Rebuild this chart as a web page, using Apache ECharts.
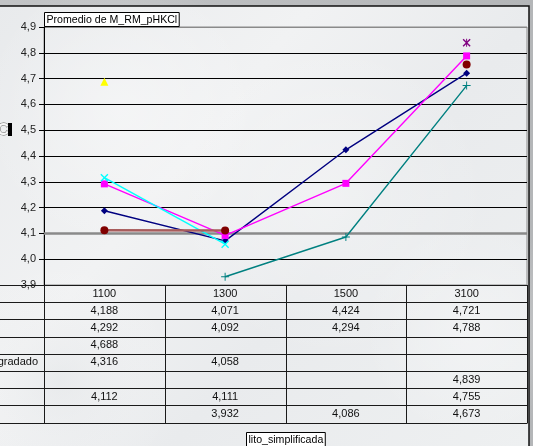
<!DOCTYPE html>
<html>
<head>
<meta charset="utf-8">
<script src="https://cdn.jsdelivr.net/npm/echarts@6/dist/echarts.min.js"></script>
<style>
html,body{margin:0;padding:0;background:#c6c8ca;}
#c{width:533px;height:446px;}
</style>
</head>
<body>
<div id="c"></div>
<script>
// Categories (lito_simplificada) and mean pHKCl per lithology row
const categories = ['1100', '1300', '1500', '3100'];
const rowLabels = ['Aluvial', 'Arenisca', 'Basalto', 'Granito degradado', 'Caliza', 'Lutita', 'Esquistos.'];
const serieA = [4.188, 4.071, 4.424, 4.721];
const serieB = [4.292, 4.092, 4.294, 4.788];
const serieC = [4.688, null, null, null];
const serieD = [4.316, 4.058, null, null];
const serieE = [null, null, null, 4.839];
const serieF = [4.112, 4.111, null, 4.755];
const serieG = [null, 3.932, 4.086, 4.673];
const rows = [serieA, serieB, serieC, serieD, serieE, serieF, serieG];
const yMin = 3.9, yMax = 4.9, yStep = 0.1;

const colors = ['#000080', '#ff00ff', '#ffff00', '#00ffff', '#800080', '#800000', '#008080'];
const xMark = 'path://M0,1.2L1.2,0L5,3.8L8.8,0L10,1.2L6.2,5L10,8.8L8.8,10L5,6.2L1.2,10L0,8.8L3.8,5Z';
const starMark = 'path://M0,1.2L1.2,0L4.4,3.2L4.4,0L5.6,0L5.6,3.2L8.8,0L10,1.2L6.2,5L10,8.8L8.8,10L5.6,6.8L5.6,10L4.4,10L4.4,6.8L1.2,10L0,8.8L3.8,5Z';
const plusMark = 'path://M4.4,0H5.6V4.4H10V5.6H5.6V10H4.4V5.6H0V4.4H4.4Z';
const markers = [
  {symbol: 'diamond', size: 7},
  {symbol: 'rect', size: 7},
  {symbol: 'triangle', size: 8},
  {symbol: xMark, size: 8},
  {symbol: starMark, size: 8},
  {symbol: 'circle', size: 8},
  {symbol: plusMark, size: 8}
];

const fmt = v => v.toFixed(3).replace('.', ',');
const FONT = 'Liberation Sans, Arial, sans-serif';

const chart = echarts.init(document.getElementById('c'), null, {renderer: 'canvas'});

const gridColors = [];
for (let i = 0; i <= Math.round((yMax - yMin) / yStep); i++) gridColors.push('#000000');
gridColors[2] = '#8a8a8a';
gridColors[gridColors.length - 1] = '#8a8a8a';

const series = rows.map((data, i) => ({
  name: rowLabels[i],
  type: 'line',
  data: data,
  connectNulls: false,
  symbol: markers[i].symbol,
  symbolSize: markers[i].size,
  showAllSymbol: true,
  z: 3 + i,
  lineStyle: {color: i === 5 ? '#a85c5c' : colors[i], width: i === 5 ? 2.5 : 1.4},
  itemStyle: {color: colors[i], borderWidth: 0},
  emphasis: {disabled: true},
  animation: false
}));
// heavier grey rule at 4,1
series[0].markLine = {
  silent: true, symbol: 'none', label: {show: false},
  lineStyle: {color: '#8a8a8a', width: 2.5, type: 'solid'},
  data: [{yAxis: 4.1}], animation: false, z: 1
};

chart.setOption({
  animation: false,
  backgroundColor: 'transparent',
  grid: {left: 44, right: 6, top: 27, height: 258, show: true, borderColor: '#8a8a8a', borderWidth: 1, backgroundColor: 'transparent'},
  xAxis: {
    type: 'category', data: categories, boundaryGap: true,
    axisLine: {lineStyle: {color: '#000', width: 1}},
    axisTick: {show: false}, axisLabel: {show: false}, splitLine: {show: false}
  },
  yAxis: {
    type: 'value', min: yMin, max: yMax, interval: yStep,
    axisLine: {show: true, lineStyle: {color: '#000', width: 1}},
    axisTick: {show: true, length: 5, lineStyle: {color: '#000'}},
    axisLabel: {margin: 8, color: '#222', fontFamily: FONT, fontSize: 11,
      formatter: v => v.toFixed(1).replace('.', ',')},
    splitLine: {show: true, lineStyle: {color: gridColors, width: 1}}
  },
  series: series
});

// Data table under the plot
const xs = categories.map(c => chart.convertToPixel({xAxisIndex: 0}, c));
const step = xs[1] - xs[0];
const bounds = [xs[0] - step / 2].concat(xs.map(x => x + step / 2));
const yTop = chart.convertToPixel({yAxisIndex: 0}, yMin);
const rowH = 17.2;
const nRows = rows.length + 1;
const right = bounds[bounds.length - 1];

const g = [];
// page background
g.push({type: 'rect', z: -10, silent: true, shape: {x: 0, y: 0, width: 533, height: 446},
  style: {fill: new echarts.graphic.LinearGradient(0, 0, 1, 0, [
    {offset: 0, color: '#c2c4c6'}, {offset: 1, color: '#b4b6b8'}])}});
g.push({type: 'rect', z: -9, silent: true, shape: {x: -5, y: 6, width: 534, height: 445},
  style: {fill: new echarts.graphic.LinearGradient(0, 0, 1, 1, [
    {offset: 0, color: '#e8eaec'}, {offset: 0.35, color: '#f1f2f3'},
    {offset: 0.6, color: '#e9ebed'}, {offset: 1, color: '#eef0f1'}])}});
[[120, 110, 140, 'rgba(255,255,255,0.35)'], [330, 200, 160, 'rgba(255,255,255,0.3)'],
 [60, 380, 120, 'rgba(220,223,226,0.35)'], [470, 330, 110, 'rgba(255,255,255,0.3)']].forEach(c => {
  g.push({type: 'circle', z: -8, silent: true, shape: {cx: c[0], cy: c[1], r: c[2]},
    style: {fill: new echarts.graphic.RadialGradient(0.5, 0.5, 0.5, [
      {offset: 0, color: c[3]}, {offset: 1, color: 'rgba(255,255,255,0)'}])}});
});
// outer frame
g.push({type: 'rect', z: 1, silent: true, shape: {x: -10, y: 6, width: 539, height: 460},
  style: {fill: 'none', stroke: '#111', lineWidth: 1.5}});

// table rules
for (let r = 0; r <= nRows; r++) {
  const y = Math.round(yTop + r * rowH) + 0.5;
  g.push({type: 'line', z: 5, silent: true, shape: {x1: -5, y1: y, x2: right, y2: y},
    style: {stroke: '#1a1a1a', lineWidth: 1}});
}
bounds.forEach(x => {
  const xx = Math.round(x) + 0.5;
  g.push({type: 'line', z: 5, silent: true, shape: {x1: xx, y1: yTop, x2: xx, y2: Math.round(yTop + nRows * rowH) + 0.5},
    style: {stroke: '#1a1a1a', lineWidth: 1}});
});
// header row
categories.forEach((c, j) => {
  g.push({type: 'text', z: 6, silent: true, style: {text: c, x: xs[j], y: yTop + rowH / 2,
    align: 'center', verticalAlign: 'middle', fill: '#111', font: '11px ' + FONT}});
});
// value rows
const cv = document.createElement('canvas').getContext('2d');
cv.font = '11px ' + FONT;
const labelStart = 38 - cv.measureText(rowLabels[3]).width;
rows.forEach((data, i) => {
  const yc = yTop + rowH * (i + 1.5);
  g.push({type: 'text', z: 6, silent: true, style: {text: rowLabels[i], x: labelStart, y: yc,
    align: 'left', verticalAlign: 'middle', fill: '#111', font: '11px ' + FONT}});
  data.forEach((v, j) => {
    if (v == null) return;
    g.push({type: 'text', z: 6, silent: true, style: {text: fmt(v), x: xs[j], y: yc,
      align: 'center', verticalAlign: 'middle', fill: '#111', font: '11px ' + FONT}});
  });
});

// pivot field buttons
function fieldButton(text, x, y) {
  cv.font = '10.6px ' + FONT;
  const w = cv.measureText(text).width + 4;
  g.push({type: 'rect', z: 7, silent: true, shape: {x: x + 0.5, y: y + 0.5, width: w, height: 14},
    style: {fill: '#ffffff', stroke: '#000', lineWidth: 1}});
  g.push({type: 'text', z: 8, silent: true, style: {text: text, x: x + 2.5, y: y + 8,
    verticalAlign: 'middle', fill: '#000', font: '10.6px ' + FONT}});
}
fieldButton('Promedio de M_RM_pHKCl', 44, 12);
fieldButton('lito_simplificada', 246, 432);

// axis title fragment at the left edge
g.push({type: 'text', z: 6, silent: true, style: {text: 'C', x: -3, y: 130, verticalAlign: 'middle',
  fill: '#f6f6f6', stroke: '#666', lineWidth: 1, font: 'bold 17px ' + FONT}});
g.push({type: 'rect', z: 6, silent: true, shape: {x: 8, y: 123, width: 4, height: 13}, style: {fill: '#000'}});

chart.setOption({graphic: {elements: g}});
</script>
</body>
</html>
